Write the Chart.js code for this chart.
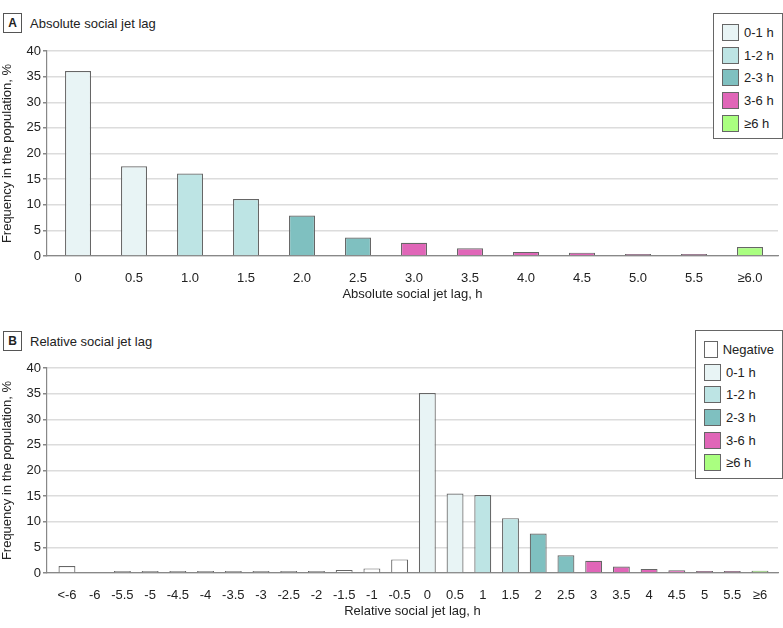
<!DOCTYPE html>
<html>
<head>
<meta charset="utf-8">
<script src="https://cdn.jsdelivr.net/npm/chart.js@4"></script>
<style>
  body { margin: 0; background: #fff; font-family: 'Liberation Sans', Arial, sans-serif; color: #222; }
  #wrap { position: relative; width: 783px; height: 628px; overflow: hidden; }
  canvas { position: absolute; left: 0; }
  .panel { position: absolute; left: 3px; font-size: 13px; display: flex; align-items: center; }
  .panel b { display: inline-block; width: 17px; height: 18px; line-height: 18px; text-align: center;
             border: 1px solid #555; font-size: 12px; margin-right: 8px; }
  .legend { position: absolute; border: 1px solid #666; background: #fff; padding: 7px 8px 4px 8px; font-size: 13px; }
  .legend div { display: flex; align-items: center; height: 22.7px; }
  .legend span { display: inline-block; width: 15px; height: 15px; border: 1px solid #666; margin-right: 5px; }
</style>
</head>
<body>
<div id="wrap">
  <div class="panel" style="top:13px"><b>A</b>Absolute social jet lag</div>
  <canvas id="chartA" width="783" height="262" style="top:40px"></canvas>
  <div class="legend" id="legendA" style="left:713px; top:13px; width:52px"></div>

  <div class="panel" style="top:331px"><b>B</b>Relative social jet lag</div>
  <canvas id="chartB" width="783" height="262" style="top:357px"></canvas>
  <div class="legend" id="legendB" style="left:695px; top:330px; width:70px"></div>
</div>
<script>
// groups shared by both panels
const groupNames = ['Negative', '0-1 h', '1-2 h', '2-3 h', '3-6 h', '≥6 h']
const groupColors = ['#ffffff', '#e8f4f5', '#bde4e4', '#7fc0c0', '#e066b8', '#aaff80']

// panel A: absolute social jet lag
const labelsA = ['0', '0.5', '1.0', '1.5', '2.0', '2.5', '3.0', '3.5', '4.0', '4.5', '5.0', '5.5', '≥6.0']
const valuesA = [36.1, 17.5, 16.1, 11.1, 7.9, 3.6, 2.6, 1.5, 0.8, 0.65, 0.3, 0.25, 1.75]
const groupsA = [1, 1, 2, 2, 3, 3, 4, 4, 4, 4, 4, 4, 5]

// panel B: relative social jet lag (-6 has no visible bar)
const labelsB = ['<-6', '-6', '-5.5', '-5', '-4.5', '-4', '-3.5', '-3', '-2.5', '-2', '-1.5', '-1', '-0.5',
                 '0', '0.5', '1', '1.5', '2', '2.5', '3', '3.5', '4', '4.5', '5', '5.5', '≥6']
const valuesB = [1.35, null, 0.1, 0.1, 0.1, 0.08, 0.15, 0.25, 0.1, 0.25, 0.6, 0.9, 2.65,
                 35.1, 15.5, 15.2, 10.7, 7.7, 3.45, 2.4, 1.25, 0.8, 0.52, 0.27, 0.2, 0.45]
const groupsB = [0, 0, 0, 0, 0, 0, 0, 0, 0, 0, 0, 0, 0, 1, 1, 2, 2, 3, 3, 4, 4, 4, 4, 4, 4, 5]

const yTicks = [0, 5, 10, 15, 20, 25, 30, 35, 40]

const FONT = "'Liberation Sans', Arial, sans-serif"
Chart.defaults.font.family = FONT
Chart.defaults.font.size = 13
Chart.defaults.color = '#222'

function makeLegend(el, used){
    el.innerHTML = ''
    used.forEach(g => {
        const row = document.createElement('div')
        row.innerHTML = `<span style="background:${groupColors[g]}"></span>${groupNames[g]}`
        el.appendChild(row)
    })
}

function drawPanel(id, labels, values, groups, xTitle, xMin, xMax, barPct){
    const ctx = document.getElementById(id)
    return new Chart(ctx, {
        type: 'bar',
        data: {
            datasets: [{
                data: values.map((v, i) => ({x: i, y: v})),
                backgroundColor: groups.map(g => groupColors[g]),
                borderColor: '#666',
                borderWidth: 1.2,
                minBarLength: 2,
                barPercentage: barPct,
                categoryPercentage: 1
            }]
        },
        options: {
            responsive: false,
            animation: false,
            layout: {padding: {top: 11, right: 5, left: 0, bottom: 0}},
            plugins: {legend: {display: false}, tooltip: {enabled: false}},
            scales: {
                x: {
                    type: 'linear',
                    min: xMin,
                    max: xMax,
                    offset: false,
                    afterBuildTicks: s => { s.ticks = labels.map((_, i) => ({value: i})) },
                    afterFit: s => { s.height = 46 },
                    grid: {display: false},
                    border: {display: true, color: '#888', width: 1.2},
                    ticks: {
                        autoSkip: false, maxRotation: 0, padding: 7,
                        callback: v => labels[v]
                    },
                    title: {display: true, text: xTitle, padding: {top: 6, bottom: 0}}
                },
                y: {
                    min: 0,
                    max: 40,
                    afterBuildTicks: s => { s.ticks = yTicks.map(v => ({value: v})) },
                    afterFit: s => { s.width = 47 },
                    grid: {color: '#dcdcdc', lineWidth: 1.5, tickColor: '#888', tickLength: 4},
                    border: {display: true, color: '#888', width: 1.2},
                    ticks: {padding: 2},
                    title: {display: true, text: 'Frequency in the population, %', padding: {top: 0, bottom: 2}}
                }
            }
        }
    })
}

drawPanel('chartA', labelsA, valuesA, groupsA, 'Absolute social jet lag, h', -0.554, 12.5, 0.464)
drawPanel('chartB', labelsB, valuesB, groupsB, 'Relative social jet lag, h', -0.72, 25.65, 0.61)
makeLegend(document.getElementById('legendA'), [1, 2, 3, 4, 5])
makeLegend(document.getElementById('legendB'), [0, 1, 2, 3, 4, 5])
</script>
</body>
</html>
